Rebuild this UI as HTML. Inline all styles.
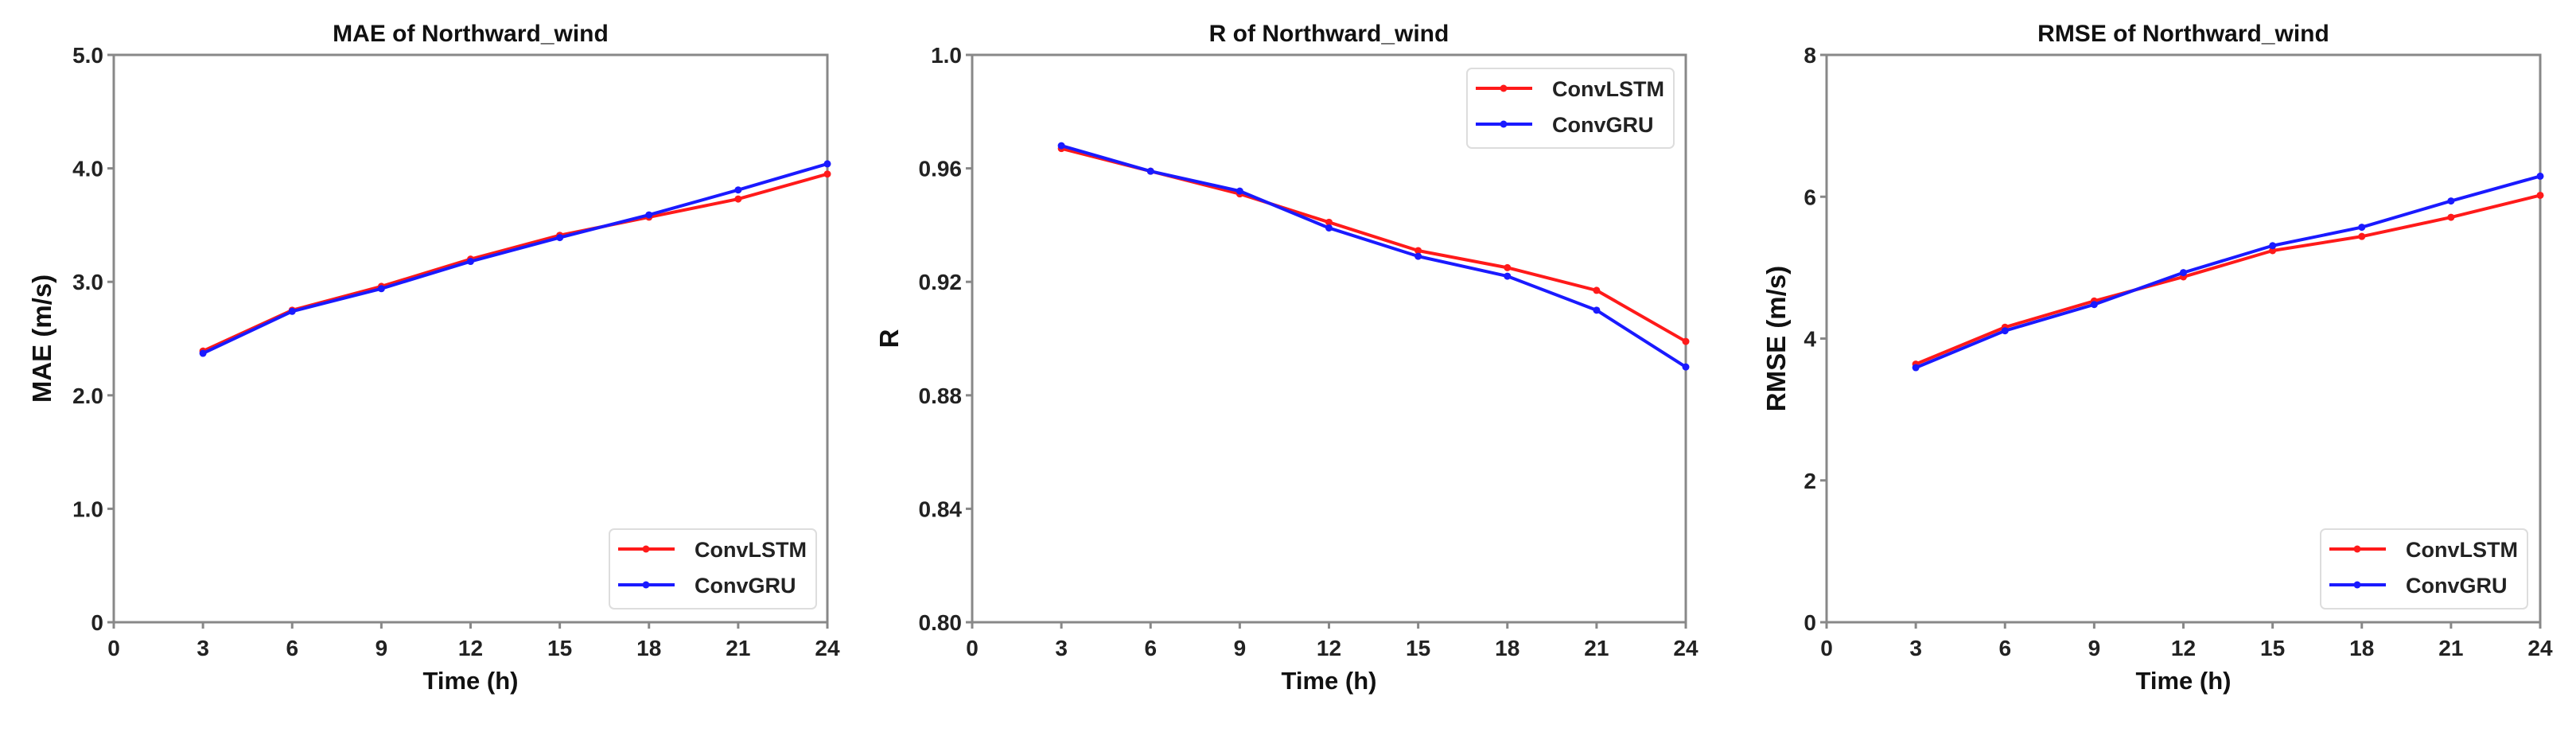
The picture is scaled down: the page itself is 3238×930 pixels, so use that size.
<!DOCTYPE html>
<html><head><meta charset="utf-8"><style>
html,body{margin:0;padding:0;background:#fff;}
svg{display:block;font-family:"Liberation Sans",sans-serif;font-weight:bold;}
</style></head><body>
<svg id="fig" width="3238" height="930" viewBox="0 0 3238 930"></svg>
<script>
const hours = [3,6,9,12,15,18,21,24];
const xTicks = [0,3,6,9,12,15,18,21,24];
const maeLSTM = [2.39,2.75,2.96,3.20,3.41,3.57,3.73,3.95];
const maeGRU  = [2.37,2.74,2.94,3.18,3.39,3.59,3.81,4.04];
const rLSTM = [0.967,0.959,0.951,0.941,0.931,0.925,0.917,0.899];
const rGRU  = [0.968,0.959,0.952,0.939,0.929,0.922,0.910,0.890];
const rmseLSTM = [3.64,4.16,4.53,4.87,5.24,5.44,5.71,6.02];
const rmseGRU  = [3.59,4.11,4.48,4.93,5.31,5.57,5.94,6.29];
const maeTicks = [0,1,2,3,4,5];
const maeTickLabels = ["0","1.0","2.0","3.0","4.0","5.0"];
const rTicks = [0.80,0.84,0.88,0.92,0.96,1.0];
const rTickLabels = ["0.80","0.84","0.88","0.92","0.96","1.0"];
const rmseTicks = [0,2,4,6,8];
const rmseTickLabels = ["0","2","4","6","8"];
const seriesNames = ["ConvLSTM","ConvGRU"];

const NS="http://www.w3.org/2000/svg";
const svg=document.getElementById('fig');
function mk(tag,attrs,parent){const e=document.createElementNS(NS,tag);for(const k in attrs)e.setAttribute(k,attrs[k]);(parent||svg).appendChild(e);return e;}

const panels=[
 {key:'mae',left:143,title:'MAE of Northward_wind',ylabel:'MAE (m/s)',ymin:0,ymax:5,ticks:maeTicks,labels:maeTickLabels,s1:maeLSTM,s2:maeGRU,ylx:53,leg:{x:766,y:665}},
 {key:'r',left:1222,title:'R of Northward_wind',ylabel:'R',ymin:0.8,ymax:1.0,ticks:rTicks,labels:rTickLabels,s1:rLSTM,s2:rGRU,ylx:1118,leg:{x:1844,y:86}},
 {key:'rmse',left:2296,title:'RMSE of Northward_wind',ylabel:'RMSE (m/s)',ymin:0,ymax:8,ticks:rmseTicks,labels:rmseTickLabels,s1:rmseLSTM,s2:rmseGRU,ylx:2233,leg:{x:2917,y:665}}
];
const W=897, TOP=69, BOT=782;
panels.forEach(p=>{
  const g=mk('g',{});
  
  
  const xs=v=>p.left+v/24*W;
  const ys=v=>BOT-(v-p.ymin)/(p.ymax-p.ymin)*(BOT-TOP);
  const frame=mk('rect',{x:p.left,y:TOP,width:W,height:BOT-TOP,fill:'none',stroke:'#888',"stroke-width":3},g);
  
  
  xTicks.forEach(t=>{
    mk('line',{x1:xs(t),x2:xs(t),y1:BOT,y2:BOT+8,stroke:'#888',"stroke-width":3},g);
    const tx=mk('text',{x:xs(t),y:BOT+42,"text-anchor":"middle","font-size":28,fill:'#222'},g);
    tx.textContent=t;
    
    
  });
  p.ticks.forEach((t,i)=>{
    mk('line',{x1:p.left-8,x2:p.left,y1:ys(t),y2:ys(t),stroke:'#888',"stroke-width":3},g);
    const tx=mk('text',{x:p.left-13,y:ys(t)+10,"text-anchor":"end","font-size":28,fill:'#222'},g);
    tx.textContent=p.labels[i];
    
    
  });
  const ti=mk('text',{x:p.left+W/2,y:52,"text-anchor":"middle","font-size":30,fill:'#111'},g);
  ti.textContent=p.title;
  
  
  const xl=mk('text',{x:p.left+W/2,y:866,"text-anchor":"middle","font-size":31,fill:'#111'},g);
  xl.textContent='Time (h)';
  
  
  const yl=mk('text',{x:p.ylx,y:(TOP+BOT)/2,"text-anchor":"middle","font-size":33,fill:'#111',transform:`rotate(-90 ${p.ylx} ${(TOP+BOT)/2})`,dy:11},g);
  yl.textContent=p.ylabel;
  
  
  [[p.s1,'#ff1a1a','convlstm'],[p.s2,'#1a1aff','convgru']].forEach(([s,c,n])=>{
    const pts=hours.map((h,i)=>xs(h)+','+ys(s[i])).join(' ');
    const pl=mk('polyline',{points:pts,fill:'none',stroke:c,"stroke-width":4,"stroke-linejoin":"round"},g);
    
    
    hours.forEach((h,i)=>{
      const m=mk('circle',{cx:xs(h),cy:ys(s[i]),r:4.5,fill:c},g);
      
      
    });
  });
  const lg=mk('g',{},g);
  
  
  mk('rect',{x:p.leg.x,y:p.leg.y,width:260,height:100,rx:6,fill:'#fff',stroke:'#ddd',"stroke-width":2},lg);
  [['#ff1a1a',seriesNames[0]],['#1a1aff',seriesNames[1]]].forEach(([c,n],i)=>{
    const yy=p.leg.y+25+i*45;
    mk('line',{x1:p.leg.x+11,x2:p.leg.x+82,y1:yy,y2:yy,stroke:c,"stroke-width":4},lg);
    mk('circle',{cx:p.leg.x+46,cy:yy,r:4.5,fill:c},lg);
    const t=mk('text',{x:p.leg.x+107,y:yy+10,"font-size":27,fill:'#222'},lg);
    t.textContent=n;
    
    
  });
});
</script>
</body></html>
